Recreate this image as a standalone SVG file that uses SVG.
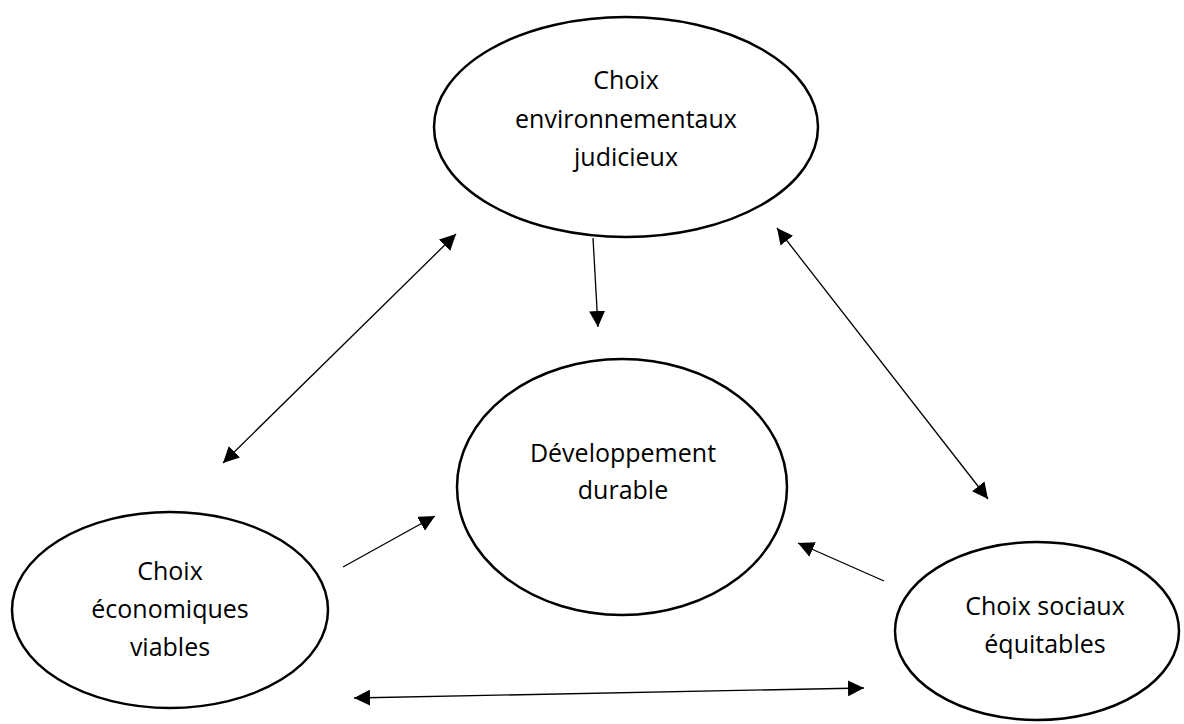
<svg xmlns="http://www.w3.org/2000/svg" width="1184" height="724" viewBox="0 0 1184 724">
<style>
.node ellipse{fill:#fff;stroke:#000;stroke-width:2.5}
.node text{font-family:"Open Sans","Noto Sans",sans-serif;font-size:25px;fill:#000;text-anchor:middle}
.conn line{stroke:#000;stroke-width:1.3;fill:none}
</style>
<defs>
<marker id="ah" markerUnits="userSpaceOnUse" markerWidth="18" markerHeight="16" refX="16" refY="8" orient="auto-start-reverse" viewBox="0 0 18 16">
<path d="M0,0 L16,8 L0,16 Z" fill="#000"/>
</marker>
</defs>
<rect width="1184" height="724" fill="#fff"/>
<g id="n-env" class="node">
<ellipse cx="626" cy="127" rx="192" ry="110"/>
<text x="626" y="89">Choix</text>
<text x="626" y="128">environnementaux</text>
<text x="626" y="166">judicieux</text>
</g>
<g id="n-dev" class="node">
<ellipse cx="622" cy="487" rx="165" ry="128"/>
<text x="623" y="462">Développement</text>
<text x="623" y="499">durable</text>
</g>
<g id="n-eco" class="node">
<ellipse cx="170" cy="610" rx="158" ry="98"/>
<text x="170" y="580">Choix</text>
<text x="170" y="618">économiques</text>
<text x="170" y="656">viables</text>
</g>
<g id="n-soc" class="node">
<ellipse cx="1037" cy="631" rx="142" ry="89"/>
<text x="1045" y="615">Choix sociaux</text>
<text x="1045" y="653">équitables</text>
</g>
<g id="connectors" class="conn">
<line x1="223" y1="463" x2="456" y2="234" marker-start="url(#ah)" marker-end="url(#ah)"/>
<line x1="777" y1="228" x2="988" y2="499" marker-start="url(#ah)" marker-end="url(#ah)"/>
<line x1="354" y1="698" x2="864" y2="688" marker-start="url(#ah)" marker-end="url(#ah)"/>
<line x1="593" y1="238" x2="598" y2="327" marker-end="url(#ah)"/>
<line x1="343" y1="567" x2="435" y2="516" marker-end="url(#ah)"/>
<line x1="884" y1="581" x2="798" y2="543" marker-end="url(#ah)"/>
</g>
</svg>
